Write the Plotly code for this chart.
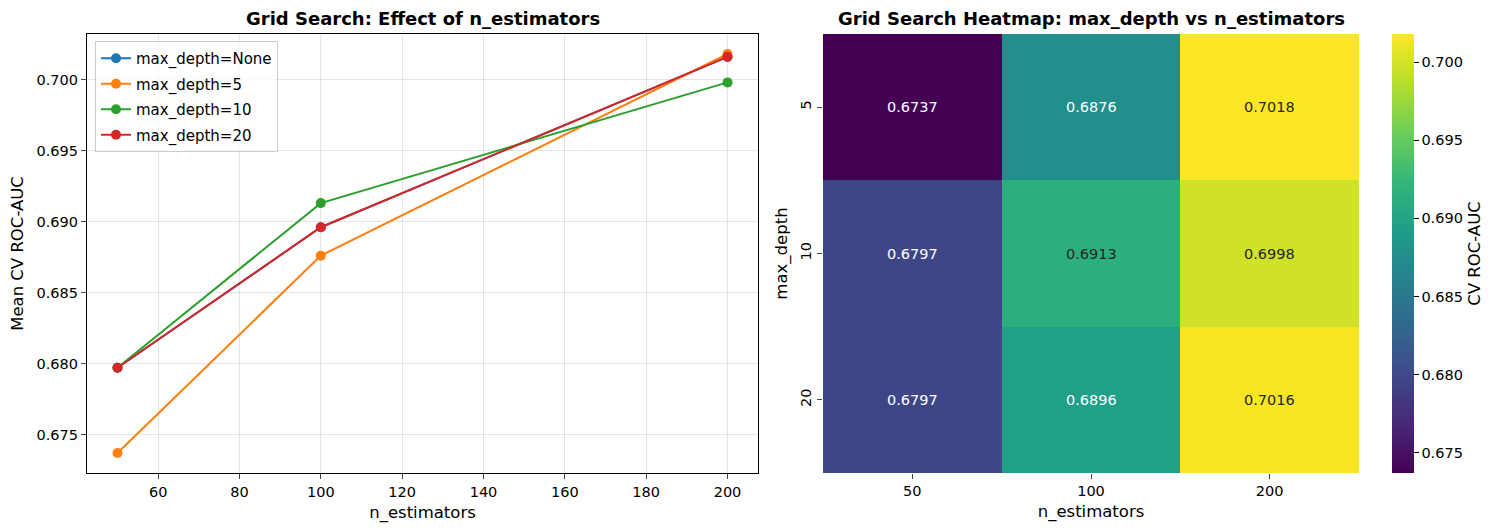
import plotly.graph_objects as go

# grid search results (mean CV ROC-AUC)
n_estimators = [50, 100, 200]
depth_labels = ["max_depth=None", "max_depth=5", "max_depth=10", "max_depth=20"]
auc_none = [0.6797, 0.6896, 0.7016]
auc_d5 = [0.6737, 0.6876, 0.7018]
auc_d10 = [0.6797, 0.6913, 0.6998]
auc_d20 = [0.6797, 0.6896, 0.7016]

heat_x = ["50", "100", "200"]
heat_y = ["5", "10", "20"]
heat_z = [auc_d5, auc_d10, auc_d20]

colors = ["#1f77b4", "#ff7f0e", "#2ca02c", "#d62728"]
FONT = "DejaVu Sans"

fig = go.Figure()

for name, vals, c in zip(depth_labels, [auc_none, auc_d5, auc_d10, auc_d20], colors):
    fig.add_trace(go.Scatter(
        x=n_estimators, y=vals, name=name, mode="lines+markers", legendgroup=name,
        line=dict(color=c, width=2), marker=dict(color=c, size=10),
        xaxis="x", yaxis="y"))

zmin = min(min(r) for r in heat_z)
zmax = max(max(r) for r in heat_z)

fig.add_trace(go.Heatmap(
    x=heat_x, y=heat_y, z=heat_z, colorscale="Viridis", zmin=zmin, zmax=zmax,
    xaxis="x2", yaxis="y2", showscale=True, hoverinfo="z",
    colorbar=dict(
        x=1392 / 1500, xanchor="left", thickness=22, xpad=0, ypad=0,
        y=1 - 473 / 532, yanchor="bottom", len=(473 - 34) / 532, lenmode="fraction",
        outlinewidth=0, ticks="outside", ticklen=5, tickcolor="black",
        tickvals=[0.675, 0.680, 0.685, 0.690, 0.695, 0.700], tickformat=".3f",
        tickfont=dict(size=14.5, color="black"),
        title=dict(text="CV ROC-AUC", side="right", font=dict(size=16.5, color="black")),
    ),
))

# cell labels (positions by category index)
for i, row in enumerate(heat_z):
    for j, v in enumerate(row):
        tc = "#262626" if (v - zmin) / (zmax - zmin) > 0.6 else "white"
        fig.add_annotation(x=j, y=i, xref="x2", yref="y2", text=f"{v:.4f}",
                           showarrow=False, font=dict(size=14.5, color=tc))

ydom = [1 - 473 / 532, 1 - 34 / 532]
tick_font = dict(size=14.5, color="black")
label_font = dict(size=16.5, color="black")

fig.update_layout(
    width=1500, height=532,
    margin=dict(l=0, r=0, t=0, b=0, autoexpand=False),
    paper_bgcolor="white", plot_bgcolor="white",
    font=dict(family=FONT, color="black"),
    showlegend=True,
    legend=dict(x=95 / 1500, y=1 - 41 / 532, xanchor="left", yanchor="top",
                bgcolor="rgba(255,255,255,0.8)", bordercolor="#cccccc", borderwidth=1,
                font=dict(size=15), tracegroupgap=3),
    xaxis=dict(domain=[87 / 1500, 758 / 1500], range=[42.5, 207.5],
               tickvals=[60, 80, 100, 120, 140, 160, 180, 200],
               showgrid=True, gridcolor="rgba(0,0,0,0.1)", zeroline=False,
               showline=True, linecolor="black", linewidth=1.2, mirror=True,
               ticks="outside", ticklen=5, tickfont=tick_font,
               title=dict(text="n_estimators", font=label_font, standoff=7)),
    yaxis=dict(domain=ydom, range=[0.67229, 0.70321],
               tickvals=[0.675, 0.680, 0.685, 0.690, 0.695, 0.700], tickformat=".3f",
               showgrid=True, gridcolor="rgba(0,0,0,0.1)", zeroline=False,
               showline=True, linecolor="black", linewidth=1.2, mirror=True,
               ticks="outside", ticklen=5, tickfont=tick_font,
               title=dict(text="Mean CV ROC-AUC", font=label_font, standoff=8)),
    xaxis2=dict(domain=[823 / 1500, 1359 / 1500], anchor="y2", type="category",
                range=[-0.5, 2.5], showgrid=False, zeroline=False,
                ticks="outside", ticklen=5, tickfont=tick_font,
                title=dict(text="n_estimators", font=label_font, standoff=7)),
    yaxis2=dict(domain=ydom, anchor="x2", type="category", range=[2.5, -0.5],
                showgrid=False, zeroline=False, ticks="outside", ticklen=5,
                tickangle=-90, tickfont=tick_font,
                title=dict(text="max_depth", font=label_font, standoff=6)),
)

fig.add_annotation(text="<b>Grid Search: Effect of n_estimators</b>", xref="paper", yref="paper",
                   x=(87 + 758) / 2 / 1500, y=1 - 18 / 532, xanchor="center", yanchor="middle",
                   showarrow=False, font=dict(size=18, color="black"))
fig.add_annotation(text="<b>Grid Search Heatmap: max_depth vs n_estimators</b>", xref="paper",
                   yref="paper", x=(823 + 1359) / 2 / 1500, y=1 - 18 / 532, xanchor="center",
                   yanchor="middle", showarrow=False, font=dict(size=18, color="black"))

fig.write_html("out.html", config={"displayModeBar": False},
               post_script="document.body.style.margin='0';")
